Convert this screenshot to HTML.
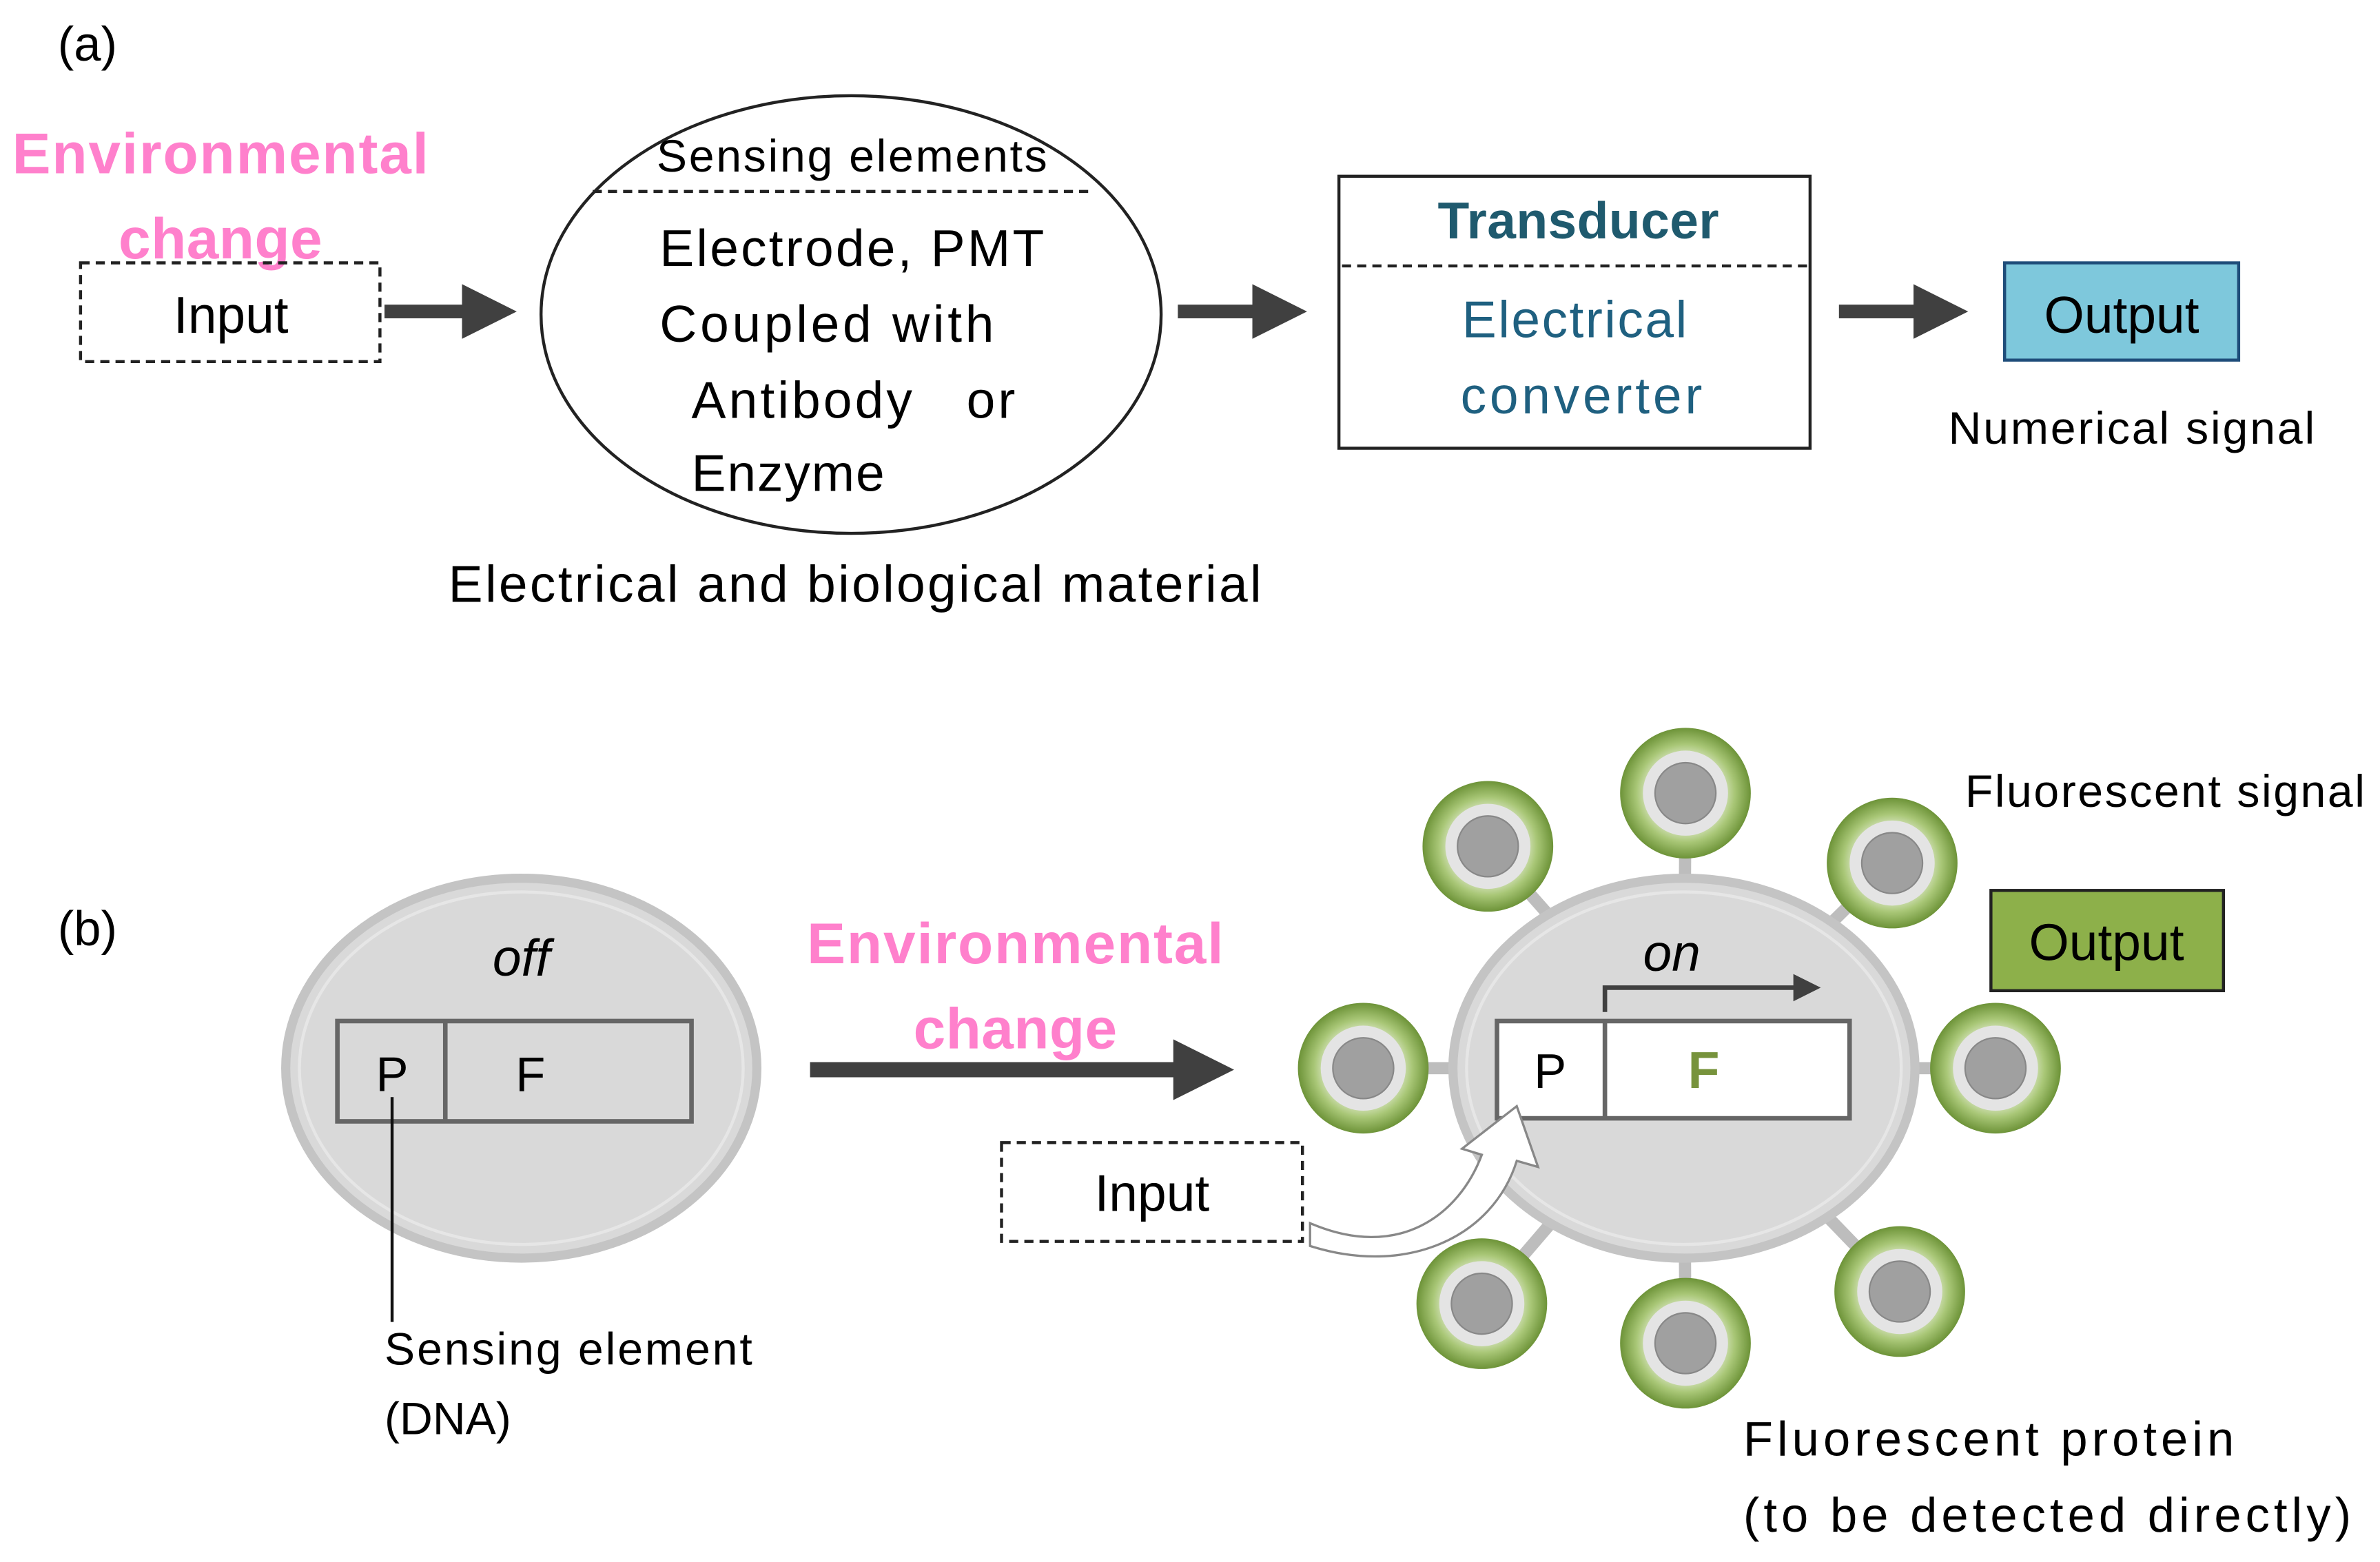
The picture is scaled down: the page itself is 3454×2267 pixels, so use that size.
<!DOCTYPE html>
<html><head><meta charset="utf-8"><style>
html,body{margin:0;padding:0;background:#fff;}
svg{display:block;}
text{font-family:"Liberation Sans",sans-serif;}
</style></head><body>
<svg width="3454" height="2267" viewBox="0 0 1566 1028" preserveAspectRatio="none" xmlns="http://www.w3.org/2000/svg">
<defs>
<marker id="ah" markerWidth="4" markerHeight="4" refX="2" refY="2" orient="auto" markerUnits="strokeWidth"><path d="M0,0 L4,2 L0,4 z" fill="#404040"/></marker>
<marker id="ah2" markerWidth="6" markerHeight="6" refX="5" refY="3" orient="auto" markerUnits="strokeWidth"><path d="M0,0 L6,3 L0,6 z" fill="#404040"/></marker>
<radialGradient id="gr" cx="50%" cy="50%" r="50%"><stop offset="0.55" stop-color="#dde8c8"/><stop offset="0.75" stop-color="#a9c777"/><stop offset="1" stop-color="#6d9338"/></radialGradient>
<g id="sat"><circle r="43" fill="url(#gr)"/><circle r="28" fill="#e4e4e4"/><circle r="20" fill="#a0a0a0" stroke="#888" stroke-width="1"/></g>
</defs>
<!-- (a) -->
<text x="38" y="40" font-size="32">(a)</text>
<text x="8" y="114" font-size="38" font-weight="bold" fill="#ff80cc" textLength="274">Environmental</text>
<text x="78" y="170" font-size="38" font-weight="bold" fill="#ff80cc" textLength="134">change</text>
<rect x="53" y="173" width="197" height="65" fill="none" stroke="#222" stroke-width="2" stroke-dasharray="6,4"/>
<text x="152" y="219" font-size="34" text-anchor="middle">Input</text>
<line x1="253" y1="205" x2="322" y2="205" stroke="#404040" stroke-width="9" marker-end="url(#ah)"/>
<ellipse cx="560" cy="207" rx="204" ry="144" fill="#fff" stroke="#222" stroke-width="2"/>
<text x="432" y="113" font-size="30" textLength="257">Sensing elements</text>
<line x1="390" y1="126" x2="720" y2="126" stroke="#222" stroke-width="2" stroke-dasharray="6,4"/>
<text x="434" y="175" font-size="34" textLength="253">Electrode, PMT</text>
<text x="434" y="225" font-size="34" textLength="220">Coupled with</text>
<text x="455" y="275" font-size="34" textLength="213" xml:space="preserve">Antibody   or</text>
<text x="455" y="323" font-size="34" textLength="127">Enzyme</text>
<text x="295" y="396" font-size="34" textLength="535">Electrical and biological material</text>
<line x1="775" y1="205" x2="842" y2="205" stroke="#404040" stroke-width="9" marker-end="url(#ah)"/>
<rect x="881" y="116" width="310" height="179" fill="#fff" stroke="#222" stroke-width="2"/>
<text x="946" y="157" font-size="34" font-weight="bold" fill="#1f5a6e" textLength="185">Transducer</text>
<line x1="883" y1="175" x2="1189" y2="175" stroke="#222" stroke-width="2" stroke-dasharray="6,4"/>
<text x="962" y="222" font-size="34" fill="#1f6080" textLength="148">Electrical</text>
<text x="961" y="272" font-size="34" fill="#1f6080" textLength="159">converter</text>
<line x1="1210" y1="205" x2="1277" y2="205" stroke="#404040" stroke-width="9" marker-end="url(#ah)"/>
<rect x="1319" y="173" width="154" height="64" fill="#7ec8dc" stroke="#1f4d7a" stroke-width="2"/>
<text x="1396" y="219" font-size="34" text-anchor="middle">Output</text>
<text x="1282" y="292" font-size="30" textLength="241">Numerical signal</text>
<!-- (b) -->
<text x="38" y="622" font-size="32">(b)</text>
<ellipse cx="343" cy="703" rx="155" ry="125" fill="#d9d9d9" stroke="#c4c4c4" stroke-width="6"/>
<ellipse cx="343" cy="703" rx="146" ry="116" fill="none" stroke="#e6e6e6" stroke-width="2"/>
<text x="343" y="642" font-size="34" font-style="italic" text-anchor="middle">off</text>
<rect x="222" y="672" width="233" height="66" fill="#d9d9d9" stroke="#666" stroke-width="3"/>
<line x1="293" y1="672" x2="293" y2="738" stroke="#666" stroke-width="3"/>
<text x="258" y="718" font-size="32" text-anchor="middle">P</text>
<text x="349" y="718" font-size="32" text-anchor="middle">F</text>
<line x1="258" y1="722" x2="258" y2="870" stroke="#111" stroke-width="2"/>
<text x="253" y="898" font-size="30" textLength="242">Sensing element</text>
<text x="253" y="944" font-size="30">(DNA)</text>
<text x="531" y="634" font-size="38" font-weight="bold" fill="#ff80cc" textLength="274">Environmental</text>
<text x="601" y="690" font-size="38" font-weight="bold" fill="#ff80cc" textLength="134">change</text>
<line x1="533" y1="704" x2="792" y2="704" stroke="#404040" stroke-width="10" marker-end="url(#ah)"/>
<rect x="659" y="752" width="198" height="65" fill="none" stroke="#222" stroke-width="2" stroke-dasharray="6,4"/>
<text x="758" y="797" font-size="34" text-anchor="middle">Input</text>
<g stroke="#bdbdbd" stroke-width="8">
<line x1="1108" y1="703" x2="979" y2="557"/><line x1="1108" y1="703" x2="1109" y2="522"/><line x1="1108" y1="703" x2="1245" y2="568"/>
<line x1="1108" y1="703" x2="897" y2="703"/><line x1="1108" y1="703" x2="1313" y2="703"/><line x1="1108" y1="703" x2="975" y2="858"/>
<line x1="1108" y1="703" x2="1109" y2="884"/><line x1="1108" y1="703" x2="1250" y2="850"/>
</g>
<ellipse cx="1108" cy="703" rx="152" ry="125" fill="#d9d9d9" stroke="#c4c4c4" stroke-width="6"/>
<ellipse cx="1108" cy="703" rx="143" ry="116" fill="none" stroke="#e6e6e6" stroke-width="2"/>
<use href="#sat" x="979" y="557"/><use href="#sat" x="1109" y="522"/><use href="#sat" x="1245" y="568"/>
<use href="#sat" x="897" y="703"/><use href="#sat" x="1313" y="703"/><use href="#sat" x="975" y="858"/>
<use href="#sat" x="1109" y="884"/><use href="#sat" x="1250" y="850"/>
<text x="1100" y="639" font-size="34" font-style="italic" text-anchor="middle">on</text>
<rect x="985" y="672" width="232" height="64" fill="#fff" stroke="#666" stroke-width="3"/>
<line x1="1056" y1="672" x2="1056" y2="736" stroke="#666" stroke-width="3"/>
<text x="1020" y="716" font-size="32" text-anchor="middle">P</text>
<text x="1121" y="716" font-size="34" font-weight="bold" fill="#77933c" text-anchor="middle">F</text>
<polyline points="1056,666 1056,650 1195,650" fill="none" stroke="#404040" stroke-width="3" marker-end="url(#ah2)"/>
<path d="M862,805 C920,830 960,800 975,760 L962,756 L998,728 L1012,768 L998,764 C982,815 925,840 862,820 Z" fill="#fff" stroke="#888" stroke-width="1.5"/>
<rect x="1310" y="586" width="153" height="66" fill="#8db04a" stroke="#222" stroke-width="2"/>
<text x="1386" y="632" font-size="34" text-anchor="middle">Output</text>
<text x="1293" y="531" font-size="30" textLength="263">Fluorescent signal</text>
<text x="1147" y="958" font-size="32" textLength="323">Fluorescent protein</text>
<text x="1147" y="1008" font-size="32" textLength="400">(to be detected directly)</text>
</svg>
</body></html>
